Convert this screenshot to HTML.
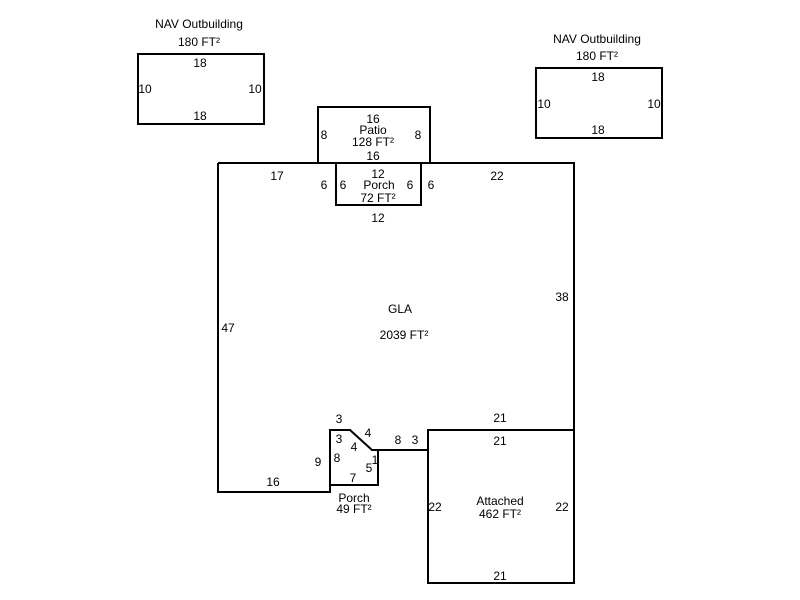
<!DOCTYPE html>
<html><head><meta charset="utf-8"><style>
html,body{margin:0;padding:0;background:#fff;}
svg{display:block;}
text{font-family:"Liberation Sans",Arial,sans-serif;font-size:12px;fill:#000;text-anchor:middle;}
</style></head><body>
<svg width="800" height="600" viewBox="0 0 800 600" xmlns="http://www.w3.org/2000/svg">
<g fill="none" stroke="#000" stroke-width="2">
<rect x="138" y="54" width="126" height="70"/>
<rect x="536" y="68" width="126" height="70"/>
<rect x="318" y="107" width="112" height="56"/>
<polyline points="218,163 574,163 574,430"/>
<polyline points="218,163 218,492 330,492 330,430 350,430 372,450 428,450"/>
<polyline points="330,485 378,485 378,450"/>
<rect x="336" y="163" width="85" height="42"/>
<rect x="428" y="430" width="146" height="153"/>
</g>
<text x="199" y="28">NAV Outbuilding</text>
<text x="199" y="46">180 FT²</text>
<text x="200" y="67">18</text>
<text x="200" y="120">18</text>
<text x="145" y="93">10</text>
<text x="255" y="93">10</text>
<text x="597" y="43">NAV Outbuilding</text>
<text x="597" y="60">180 FT²</text>
<text x="598" y="81">18</text>
<text x="598" y="134">18</text>
<text x="544" y="108">10</text>
<text x="654" y="108">10</text>
<text x="373" y="123">16</text>
<text x="373" y="134">Patio</text>
<text x="373" y="146">128 FT²</text>
<text x="373" y="160">16</text>
<text x="324" y="139">8</text>
<text x="418" y="139">8</text>
<text x="378" y="178">12</text>
<text x="379" y="189">Porch</text>
<text x="378" y="202">72 FT²</text>
<text x="378" y="222">12</text>
<text x="324" y="189">6</text>
<text x="343" y="189">6</text>
<text x="410" y="189">6</text>
<text x="431" y="189">6</text>
<text x="277" y="180">17</text>
<text x="497" y="180">22</text>
<text x="228" y="332">47</text>
<text x="562" y="301">38</text>
<text x="400" y="313">GLA</text>
<text x="404" y="339">2039 FT²</text>
<text x="273" y="486">16</text>
<text x="318" y="466">9</text>
<text x="339" y="423">3</text>
<text x="339" y="443">3</text>
<text x="368" y="437">4</text>
<text x="354" y="451">4</text>
<text x="337" y="462">8</text>
<text x="375" y="464">1</text>
<text x="369" y="472">5</text>
<text x="353" y="482">7</text>
<text x="398" y="444">8</text>
<text x="415" y="444">3</text>
<text x="354" y="502">Porch</text>
<text x="354" y="513">49 FT²</text>
<text x="500" y="422">21</text>
<text x="500" y="445">21</text>
<text x="500" y="505">Attached</text>
<text x="500" y="518">462 FT²</text>
<text x="435" y="511">22</text>
<text x="562" y="511">22</text>
<text x="500" y="580">21</text>
</svg>
</body></html>
